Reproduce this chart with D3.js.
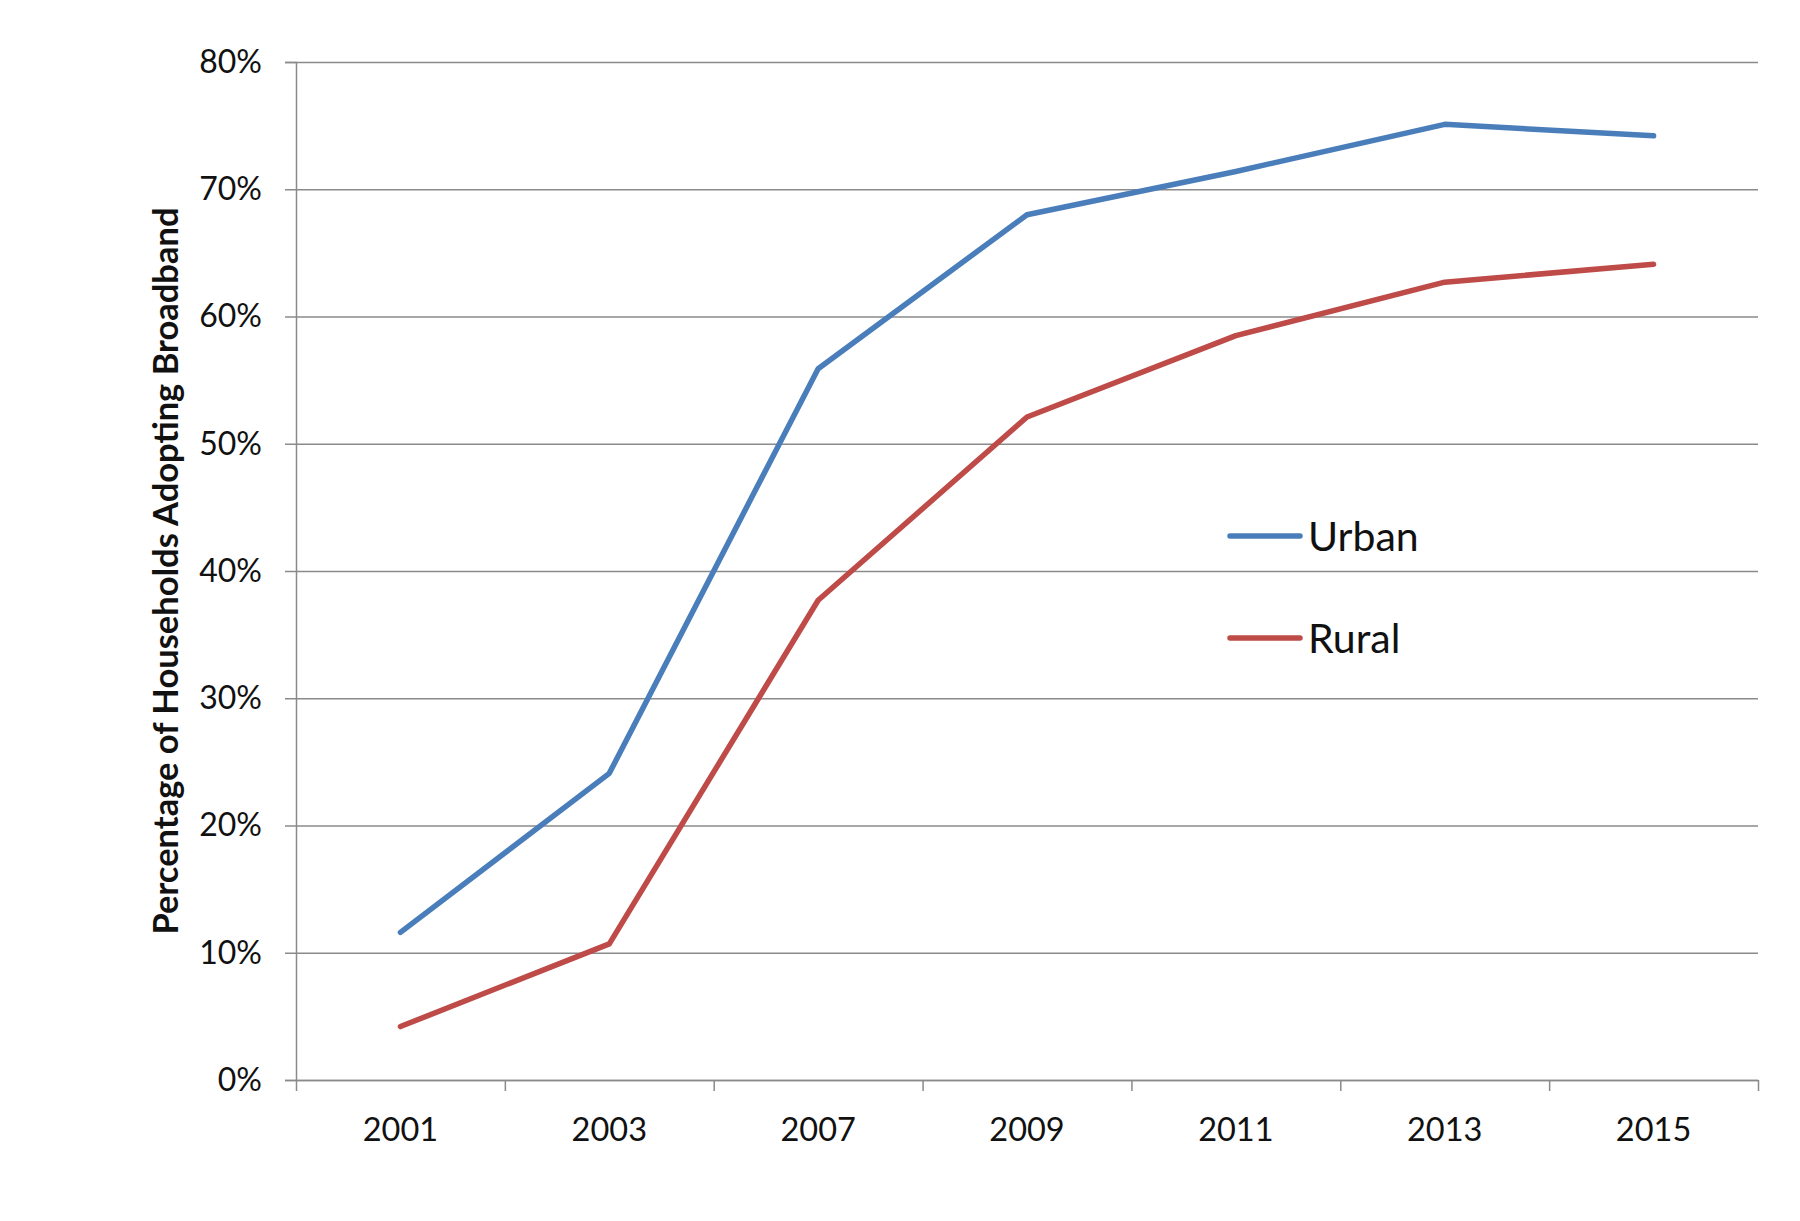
<!DOCTYPE html>
<html>
<head>
<meta charset="utf-8">
<script src="https://cdn.jsdelivr.net/npm/d3@7"></script>
<style>
  body { margin: 0; background: #fff; }
  svg { display: block; }
  text { font-family: Lato, "Open Sans", sans-serif; fill: #111; }
</style>
</head>
<body>
<svg id="chart" width="1800" height="1221"></svg>
<script>
// chart data
const years = ["2001", "2003", "2007", "2009", "2011", "2013", "2015"];
const urban = [11.6, 24.1, 55.9, 68.0, 71.4, 75.1, 74.2];
const rural = [4.2, 10.7, 37.7, 52.1, 58.5, 62.7, 64.1];
const yTicks = [0, 10, 20, 30, 40, 50, 60, 70, 80];
const seriesNames = ["Urban", "Rural"];
const seriesColors = ["#4a7ebb", "#be4b48"];

var svg = d3.select("#chart");
var margin = { top: 62, right: 42, bottom: 141, left: 296 };
var width = 1800 - margin.left - margin.right;
var height = 1221 - margin.top - margin.bottom;

var g = svg.append("g")
  .attr("transform", "translate(" + margin.left + "," + margin.top + ")");

// scales
var x = d3.scaleBand().domain(years).range([0, width]).padding(0);
var xEdge = d3.scaleLinear().domain([0, years.length]).range([0, width]);
var y = d3.scaleLinear().domain([0, 80]).range([height, 0]);

// horizontal gridlines
g.append("g")
  .attr("class", "grid")
  .call(d3.axisLeft(y).tickValues(yTicks).tickSize(-width).tickFormat(""))
  .call(function (s) {
    s.select(".domain").remove();
    s.selectAll("line").attr("stroke", "#8a8a8a").attr("stroke-width", 1.5);
  });

// y axis with outer ticks and labels
g.append("g")
  .call(d3.axisLeft(y).tickValues(yTicks).tickSize(11).tickPadding(23)
    .tickFormat(function (d) { return d + "%"; }))
  .call(function (s) {
    s.select(".domain").attr("stroke", "#8a8a8a").attr("stroke-width", 1.5);
    s.selectAll("line").attr("stroke", "#8a8a8a").attr("stroke-width", 1.5);
    s.selectAll("text")
      .style("font-size", "32px")
      .style("font-family", "Lato, 'Open Sans', sans-serif")
      .attr("fill", "#111");
  });

// x axis: tick marks on category boundaries
g.append("g")
  .attr("transform", "translate(0," + height + ")")
  .call(d3.axisBottom(xEdge).tickValues(d3.range(years.length + 1))
    .tickSize(11).tickSizeOuter(0).tickFormat(""))
  .call(function (s) {
    s.select(".domain").attr("stroke", "#8a8a8a").attr("stroke-width", 1.5);
    s.selectAll("line").attr("stroke", "#8a8a8a").attr("stroke-width", 1.5);
  });

// x axis labels centred in each band
g.append("g")
  .attr("transform", "translate(0," + height + ")")
  .call(d3.axisBottom(x).tickSize(0).tickPadding(38))
  .call(function (s) {
    s.select(".domain").remove();
    s.selectAll("text")
      .style("font-size", "32.5px")
      .style("font-family", "Lato, 'Open Sans', sans-serif")
      .attr("fill", "#111");
  });

// lines
var line = d3.line()
  .x(function (d, i) { return x(years[i]) + x.bandwidth() / 2; })
  .y(function (d) { return y(d); });

[urban, rural].forEach(function (vals, i) {
  g.append("path")
    .datum(vals)
    .attr("fill", "none")
    .attr("stroke", seriesColors[i])
    .attr("stroke-width", 5.5)
    .attr("stroke-linejoin", "round")
    .attr("stroke-linecap", "round")
    .attr("d", line);
});

// legend
var legend = svg.append("g").attr("transform", "translate(1230,536)");
seriesNames.forEach(function (name, i) {
  var row = legend.append("g").attr("transform", "translate(0," + i * 102 + ")");
  row.append("line")
    .attr("x1", 0).attr("x2", 70)
    .attr("stroke", seriesColors[i])
    .attr("stroke-width", 5.5)
    .attr("stroke-linecap", "round");
  row.append("text")
    .attr("x", 78)
    .attr("dy", "0.36em")
    .style("font-size", "41px")
    .text(name);
});

// y axis title
svg.append("text")
  .attr("transform", "translate(166," + (margin.top + 509) + ") rotate(-90)")
  .attr("text-anchor", "middle")
  .attr("dy", "0.36em")
  .style("font-size", "34.5px")
  .style("font-weight", "bold")
  .text("Percentage of Households Adopting Broadband");
</script>
</body>
</html>
